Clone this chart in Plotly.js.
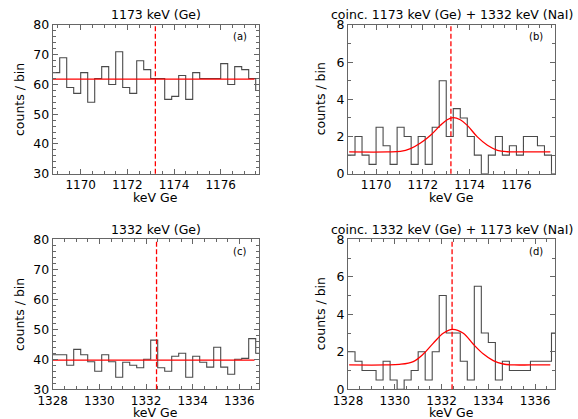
<!DOCTYPE html>
<html><head><meta charset="utf-8">
<script src="https://cdn.plot.ly/plotly-3.0.1.min.js"></script>
<style>html,body{margin:0;padding:0;background:#fff}#chart{width:578px;height:419px}</style>
</head><body><div id="chart"></div><script>
// ---- data ----
const binWidth = 0.3;               // keV per bin
const firstEdge1173 = 1168.8;        // first bin edge, panels (a),(b)
const firstEdge1332 = 1328.0;        // first bin edge, panels (c),(d)
const countsA = [64, 69, 59, 57, 64, 54, 62, 66, 60, 71, 59, 57, 68, 65, 62, 62, 55, 56, 63, 55, 64, 62, 62, 62, 67, 60, 66, 65, 62, 58];
const countsB = [1, 2, 1, 0.5, 2.5, 1.5, 0.5, 2.5, 2, 0.5, 2, 0.5, 2.5, 5, 2, 3.5, 3, 2, 1, 0, 1, 2, 1, 1.5, 1, 2, 2, 1.5, 1, 0];
const countsC = [41.5, 41.5, 38, 43.3, 41.5, 39.2, 36, 41.5, 39.2, 34, 39, 38, 37.2, 40, 46.4, 37.2, 36, 41, 42, 34, 41, 39, 37.4, 44, 37.4, 35, 40, 40.3, 46.9, 42];
const countsD = [2, 1.5, 1, 1, 0.5, 1.5, 0.5, 0, 0.5, 1, 2, 0.5, 2, 5, 3, 3, 1.5, 0.5, 5.5, 3, 2.5, 0.5, 1.5, 1, 1, 1, 1.5, 1.5, 1.5, 3];
// fit curves
const fitAx = [1168.8, 1177.45], fitAy = [61.8, 61.8];
const fitCx = [1328.0, 1336.65], fitCy = [39.7, 39.7];
const fitBx = [1168.85, 1170.5, 1171.04, 1171.47, 1171.9, 1172.33, 1172.75, 1173.04, 1173.3, 1173.6, 1173.9, 1174.33, 1174.76, 1175.19, 1175.6, 1176.2, 1177.45];
const fitBy = [1.17, 1.17, 1.2, 1.35, 1.65, 2.07, 2.6, 2.9, 3.02, 2.9, 2.6, 1.98, 1.53, 1.26, 1.18, 1.17, 1.17];
const fitDx = [1328.05, 1329.6, 1330.2, 1330.79, 1331.22, 1331.64, 1332.07, 1332.47, 1332.93, 1333.36, 1333.79, 1334.21, 1334.64, 1335.1, 1335.8, 1336.65];
const fitDy = [1.3, 1.3, 1.33, 1.48, 1.88, 2.45, 2.99, 3.2, 2.99, 2.4, 1.88, 1.53, 1.35, 1.3, 1.3, 1.3];
const lineGe1173 = 1173.2, lineGe1332 = 1332.45;
const rangeX1173 = [1168.8, 1177.65], rangeX1332 = [1328.0, 1336.85];
const rangeYsingles = [30, 80], rangeYcoinc = [0, 8];
const titles = ['1173 keV (Ge)', 'coinc. 1173 keV (Ge) + 1332 keV (NaI)', '1332 keV (Ge)', 'coinc. 1332 keV (Ge) + 1173 keV (NaI)'];
const tags = ['(a)', '(b)', '(c)', '(d)'];

// ---- helpers ----
function stepTrace(first, counts, xa, ya) {
  const x = [], y = [];
  counts.forEach((c, i) => { x.push(first + i * binWidth); y.push(c); });
  x.push(first + counts.length * binWidth); y.push(counts[counts.length - 1]);
  return {x, y, xaxis: xa, yaxis: ya, type: 'scatter', mode: 'lines',
    line: {shape: 'hv', color: '#4a4a4a', width: 1.1}, hoverinfo: 'none', showlegend: false};
}
function fitTrace(x, y, xa, ya, smooth) {
  return {x, y, xaxis: xa, yaxis: ya, type: 'scatter', mode: 'lines',
    line: {shape: smooth ? 'spline' : 'linear', smoothing: 1, color: '#ff0000', width: 1.3}, hoverinfo: 'none', showlegend: false};
}
const W = 578, H = 419;
const px = v => v / W, py = v => 1 - v / H;
const colX = [[52.7, 259.2], [348, 555]];
const rowY = [[25, 173.7], [239.3, 389.3]];

const data = [
  stepTrace(firstEdge1173, countsA, 'x', 'y'), fitTrace(fitAx, fitAy, 'x', 'y', false),
  stepTrace(firstEdge1173, countsB, 'x2', 'y2'), fitTrace(fitBx, fitBy, 'x2', 'y2', true),
  stepTrace(firstEdge1332, countsC, 'x3', 'y3'), fitTrace(fitCx, fitCy, 'x3', 'y3', false),
  stepTrace(firstEdge1332, countsD, 'x4', 'y4'), fitTrace(fitDx, fitDy, 'x4', 'y4', true)
];

const font = {family: 'DejaVu Sans', size: 12, color: '#000'};
function xaxis(col, row, range, anchor) {
  return {domain: [px(colX[col][0]), px(colX[col][1])], range, anchor, dtick: 2, tick0: 0,
    ticks: 'inside', ticklen: 5, tickcolor: '#666', showline: true, linecolor: '#666', linewidth: 1,
    mirror: 'ticks', showgrid: false, zeroline: false, tickfont: {family: 'DejaVu Sans', size: 12, color: '#000'},
    minor: {dtick: 0.5, ticklen: 3, tickcolor: '#666', ticks: 'inside', showgrid: false}};
}
function yaxis(col, row, range, dt, mdt, anchor) {
  return {domain: [py(rowY[row][1]), py(rowY[row][0])], range, anchor, dtick: dt,
    ticks: 'inside', ticklen: 5, tickcolor: '#666', showline: true, linecolor: '#666', linewidth: 1,
    mirror: 'ticks', showgrid: false, zeroline: false, tickfont: {family: 'DejaVu Sans', size: 12.5, color: '#000'},
    minor: {dtick: mdt, ticklen: 3, tickcolor: '#666', ticks: 'inside', showgrid: false}};
}

const annotations = [];
const shapes = [];
[[0,0],[1,0],[0,1],[1,1]].forEach(([c, r], i) => {
  const cx = (colX[c][0] + colX[c][1]) / 2;
  annotations.push({text: titles[i], xref: 'paper', yref: 'paper', x: px(cx), y: py(rowY[r][0] - 10),
    xanchor: 'center', yanchor: 'middle', showarrow: false, font: {family: 'DejaVu Sans', size: 12.5, color: '#000'}});
  annotations.push({text: 'keV Ge', xref: 'paper', yref: 'paper', x: px(cx), y: py(rowY[r][1] + 23.5),
    xanchor: 'center', yanchor: 'middle', showarrow: false, font: {family: 'DejaVu Sans', size: 12.5, color: '#000'}});
  annotations.push({text: 'counts / bin', xref: 'paper', yref: 'paper', x: px(colX[c][0] - (c === 0 ? 33 : 28)),
    y: py((rowY[r][0] + rowY[r][1]) / 2), textangle: -90, xanchor: 'center', yanchor: 'middle', showarrow: false,
    font: {family: 'DejaVu Sans', size: 12.5, color: '#000'}});
  annotations.push({text: tags[i], xref: 'paper', yref: 'paper', x: px(colX[c][1] - 19.5), y: py(rowY[r][0] + 12),
    xanchor: 'center', yanchor: 'middle', showarrow: false, font: {family: 'DejaVu Sans', size: 10, color: '#000'}});
});
const axNames = ['', '2', '3', '4'];
[lineGe1173, lineGe1173, lineGe1332, lineGe1332].forEach((e, i) => {
  shapes.push({type: 'line', xref: 'x' + axNames[i], yref: 'y' + axNames[i] + ' domain', x0: e, x1: e, y0: 0, y1: 1,
    line: {color: '#ff0000', width: 1.3, dash: '5px,2.5px'}});
});

const layout = {
  width: W, height: H, margin: {l: 0, r: 0, t: 0, b: 0}, paper_bgcolor: '#fff', plot_bgcolor: '#fff',
  font, showlegend: false,
  xaxis: xaxis(0, 0, rangeX1173, 'y'), yaxis: yaxis(0, 0, rangeYsingles, 10, 2, 'x'),
  xaxis2: xaxis(1, 0, rangeX1173, 'y2'), yaxis2: yaxis(1, 0, rangeYcoinc, 2, 1, 'x2'),
  xaxis3: xaxis(0, 1, rangeX1332, 'y3'), yaxis3: yaxis(0, 1, rangeYsingles, 10, 2, 'x3'),
  xaxis4: xaxis(1, 1, rangeX1332, 'y4'), yaxis4: yaxis(1, 1, rangeYcoinc, 2, 1, 'x4'),
  annotations, shapes
};
Plotly.newPlot('chart', data, layout, {staticPlot: true, displayModeBar: false});
</script></body></html>
